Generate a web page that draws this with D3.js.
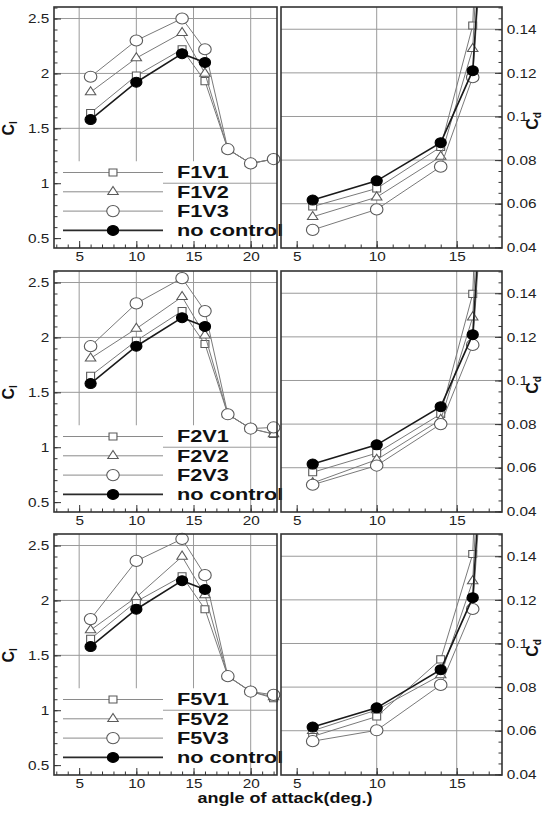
<!DOCTYPE html>
<html>
<head>
<meta charset="utf-8">
<script src="https://cdn.jsdelivr.net/npm/d3@7"></script>
<style>
  body { margin: 0; background: #fff; }
  svg { display: block; font-family: "Liberation Sans", Arial, sans-serif; }
  .grid { stroke: #9a9a9a; stroke-width: 1; }
  .tick line { stroke: #333; }
  .tick text { fill: #222; font-size: 13px; }
</style>
</head>
<body>
<svg id="chart" width="547" height="813"></svg>
<script>
// angle of attack (deg.)
var alphaCl = [6, 10, 14, 16, 18, 20, 22];
var alphaBase = [6, 10, 14, 16];
var alphaCd = [6, 10, 14, 16, 18];

var rowNames = ["F1", "F2", "F5"];
var caseNames = ["V1", "V2", "V3"];
var baseName = "no control";

// lift coefficient
var clNoControl = [1.58, 1.92, 2.18, 2.10];
var clF1V1 = [1.64, 1.98, 2.22, 1.93, 1.31, 1.18, 1.22];
var clF1V2 = [1.83, 2.14, 2.37, 2.00, 1.31, 1.18, 1.22];
var clF1V3 = [1.97, 2.30, 2.50, 2.22, 1.31, 1.18, 1.22];
var clF2V1 = [1.65, 1.97, 2.24, 1.94, 1.30, 1.17, 1.12];
var clF2V2 = [1.81, 2.08, 2.37, 2.02, 1.30, 1.17, 1.12];
var clF2V3 = [1.92, 2.31, 2.54, 2.24, 1.30, 1.17, 1.18];
var clF5V1 = [1.65, 1.99, 2.22, 1.92, 1.31, 1.17, 1.11];
var clF5V2 = [1.73, 2.03, 2.40, 2.05, 1.31, 1.17, 1.12];
var clF5V3 = [1.83, 2.36, 2.56, 2.23, 1.31, 1.17, 1.14];

// drag coefficient (the 18 deg. points run off the top of the panel)
var cdNoControl = [0.0617, 0.0705, 0.0880, 0.1210, 0.35];
var cdF1V1 = [0.0587, 0.0670, 0.0860, 0.1417, 0.50];
var cdF1V2 = [0.0540, 0.0630, 0.0816, 0.1310, 0.42];
var cdF1V3 = [0.0480, 0.0574, 0.0770, 0.1180, 0.33];
var cdF2V1 = [0.0579, 0.0667, 0.0846, 0.1397, 0.50];
var cdF2V2 = [0.0530, 0.0637, 0.0820, 0.1290, 0.42];
var cdF2V3 = [0.0522, 0.0610, 0.0800, 0.1163, 0.33];
var cdF5V1 = [0.0574, 0.0665, 0.0927, 0.1410, 0.50];
var cdF5V2 = [0.0600, 0.0695, 0.0855, 0.1286, 0.42];
var cdF5V3 = [0.0552, 0.0602, 0.0810, 0.1158, 0.33];

var clTicks = [0.5, 1, 1.5, 2, 2.5];
var cdTicks = [0.04, 0.06, 0.08, 0.1, 0.12, 0.14];
var alphaTicksL = [5, 10, 15, 20];
var alphaTicksR = [5, 10, 15];

var clRows = [[clF1V1, clF1V2, clF1V3], [clF2V1, clF2V2, clF2V3], [clF5V1, clF5V2, clF5V3]];
var cdRows = [[cdF1V1, cdF1V2, cdF1V3], [cdF2V1, cdF2V2, cdF2V3], [cdF5V1, cdF5V2, cdF5V3]];

var svg = d3.select("#chart");
var rowTop = [7, 271, 534],
    H = 241;

var xL = d3.scaleLinear().domain([2.8, 22.3]).range([54, 277]);
var xR = d3.scaleLinear().domain([4.02, 17.83]).range([281, 502]);
var yL = d3.scaleLinear().domain([0.41, 2.605]).range([H, 0]);
var yR = d3.scaleLinear().domain([0.0397, 0.1502]).range([H, 0]);

var markers = [d3.symbolSquare, d3.symbolTriangle, d3.symbolCircle];
var markerSize = [50, 38, 98];
var TXT = 1.18; // the picture is a bit wider than tall, text too

function drawMarker(sel, i, x, y) {
  var filled = i == 3;
  var sym = filled ? d3.symbol(d3.symbolCircle, 78) : d3.symbol(markers[i], markerSize[i]);
  sel.append("path")
    .attr("d", sym())
    .attr("transform", "translate(" + x + "," + y + ") scale(1.12,1)")
    .attr("fill", filled ? "#000" : "#fff")
    .attr("stroke", filled ? "#000" : "#5a5a5a")
    .attr("stroke-width", 1);
}

function series(g, xs, ys, i, xScale, yScale) {
  var line = d3.line()
    .x(function(d, k) { return xScale(xs[k]); })
    .y(function(d) { return yScale(d); });
  g.append("path")
    .datum(ys)
    .attr("d", line)
    .attr("fill", "none")
    .attr("stroke", i == 3 ? "#1a1a1a" : "#7a7a7a")
    .attr("stroke-width", i == 3 ? 1.6 : 1);
  ys.forEach(function(v, k) { drawMarker(g, i, xScale(xs[k]), yScale(v)); });
}

function axes(g, x, y, xticks, yticks, yMinor, xMinor, right) {
  var xt = right ? 502 : 54;
  var yAx = right ? d3.axisRight : d3.axisLeft;
  g.append("g").attr("transform", "translate(" + xt + ",0)")
    .call(yAx(y).tickValues(yMinor).tickSize(-3.5).tickFormat(""))
    .call(function(a) { a.select(".domain").remove(); });
  g.append("g").attr("transform", "translate(" + xt + ",0)")
    .call(yAx(y).tickValues(yticks).tickSize(-7).tickPadding(4).tickFormat(d3.format("")))
    .call(function(a) { a.select(".domain").remove(); a.selectAll("text").attr("transform", "scale(" + TXT + ",1)"); });
  g.append("g").attr("transform", "translate(0," + H + ")")
    .call(d3.axisBottom(x).tickValues(xMinor).tickSize(-3.5).tickFormat(""))
    .call(function(a) { a.select(".domain").remove(); });
  g.append("g").attr("transform", "translate(0," + H + ")")
    .call(d3.axisBottom(x).tickValues(xticks).tickSize(-7).tickPadding(4))
    .call(function(a) { a.select(".domain").remove(); a.selectAll("text").attr("transform", "scale(" + TXT + ",1)"); });
}

// legend layout
var legX0 = 63, legX1 = 163, legMark = 113, legText = 177, legY0 = 165.5, legDy = 19.3;

rowNames.forEach(function(rn, r) {
  var g = svg.append("g").attr("transform", "translate(0," + rowTop[r] + ")");

  // ---- left: lift ----
  var gl = g.append("g");
  gl.selectAll(".gh").data([1.5, 2, 2.5]).join("line").attr("class", "grid")
    .attr("x1", xL.range()[0]).attr("x2", xL.range()[1])
    .attr("y1", function(d) { return yL(d); }).attr("y2", function(d) { return yL(d); });
  gl.selectAll(".gv").data(alphaTicksL).join("line").attr("class", "grid")
    .attr("x1", function(d) { return xL(d); }).attr("x2", function(d) { return xL(d); })
    .attr("y1", 0).attr("y2", H);
  // legend box hides the grid behind it
  gl.append("rect").attr("x", xL.range()[0] + 1).attr("y", yL(1.2))
    .attr("width", xL(18.5) - xL.range()[0]).attr("height", H - yL(1.2) - 1).attr("fill", "#fff");
  gl.append("line").attr("class", "grid")
    .attr("x1", legX1).attr("x2", xL.range()[1]).attr("y1", yL(1)).attr("y2", yL(1));

  clRows[r].forEach(function(ys, i) { series(gl, alphaCl, ys, i, xL, yL); });
  series(gl, alphaBase, clNoControl, 3, xL, yL);

  // legend
  var labels = caseNames.map(function(c) { return rn + c; }).concat([baseName]);
  labels.forEach(function(t, i) {
    var yy = legY0 + i * legDy;
    gl.append("line").attr("x1", legX0).attr("x2", legX1).attr("y1", yy).attr("y2", yy)
      .attr("stroke", i == 3 ? "#2a2a2a" : "#8a8a8a").attr("stroke-width", i == 3 ? 1.8 : 1);
    drawMarker(gl, i, legMark, yy);
    gl.append("text").attr("transform", "translate(" + legText + "," + yy + ") scale(1.36,1)")
      .attr("dy", "0.36em").attr("font-size", 16).attr("font-weight", "bold").attr("fill", "#111").text(t);
  });

  axes(gl, xL, yL, alphaTicksL, clTicks, d3.range(5, 27).map(function(d) { return d / 10; }), d3.range(3, 23), false);
  gl.append("rect").attr("x", xL.range()[0]).attr("y", 0)
    .attr("width", xL.range()[1] - xL.range()[0]).attr("height", H)
    .attr("fill", "none").attr("stroke", "#333").attr("stroke-width", 1.6);

  var tl = gl.append("text").attr("transform", "translate(14," + yL(1.5) + ") rotate(-90)")
    .attr("text-anchor", "middle").attr("font-weight", "bold").attr("font-size", 16).attr("fill", "#111");
  tl.append("tspan").text("C");
  tl.append("tspan").attr("font-size", 10).attr("dy", 3).text("l");

  // ---- right: drag ----
  var gr = g.append("g");
  gr.append("clipPath").attr("id", "clip" + r).append("rect")
    .attr("x", xR.range()[0]).attr("y", 0).attr("width", xR.range()[1] - xR.range()[0]).attr("height", H);
  gr.selectAll(".gh").data([0.06, 0.08, 0.1, 0.12, 0.14]).join("line").attr("class", "grid")
    .attr("x1", xR.range()[0]).attr("x2", xR.range()[1])
    .attr("y1", function(d) { return yR(d); }).attr("y2", function(d) { return yR(d); });
  gr.selectAll(".gv").data([10, 15]).join("line").attr("class", "grid")
    .attr("x1", function(d) { return xR(d); }).attr("x2", function(d) { return xR(d); })
    .attr("y1", 0).attr("y2", H);

  var gc = gr.append("g").attr("clip-path", "url(#clip" + r + ")");
  cdRows[r].forEach(function(ys, i) { series(gc, alphaCd, ys, i, xR, yR); });
  series(gc, alphaCd, cdNoControl, 3, xR, yR);

  axes(gr, xR, yR, alphaTicksR, cdTicks, d3.range(8, 31).map(function(d) { return d * 0.005; }), d3.range(5, 18), true);
  gr.append("rect").attr("x", xR.range()[0]).attr("y", 0)
    .attr("width", xR.range()[1] - xR.range()[0]).attr("height", H)
    .attr("fill", "none").attr("stroke", "#333").attr("stroke-width", 1.6);

  var td = gr.append("text").attr("transform", "translate(538," + yR(0.098) + ") rotate(-90)")
    .attr("text-anchor", "middle").attr("font-weight", "bold").attr("font-size", 16).attr("fill", "#111");
  td.append("tspan").text("C");
  td.append("tspan").attr("font-size", 10).attr("dy", 3).text("d");
});

svg.append("text")
  .attr("transform", "translate(285,803) scale(1.2,1)")
  .attr("text-anchor", "middle").attr("font-weight", "bold").attr("font-size", 15).attr("fill", "#111")
  .text("angle of attack(deg.)");
</script>
</body>
</html>
